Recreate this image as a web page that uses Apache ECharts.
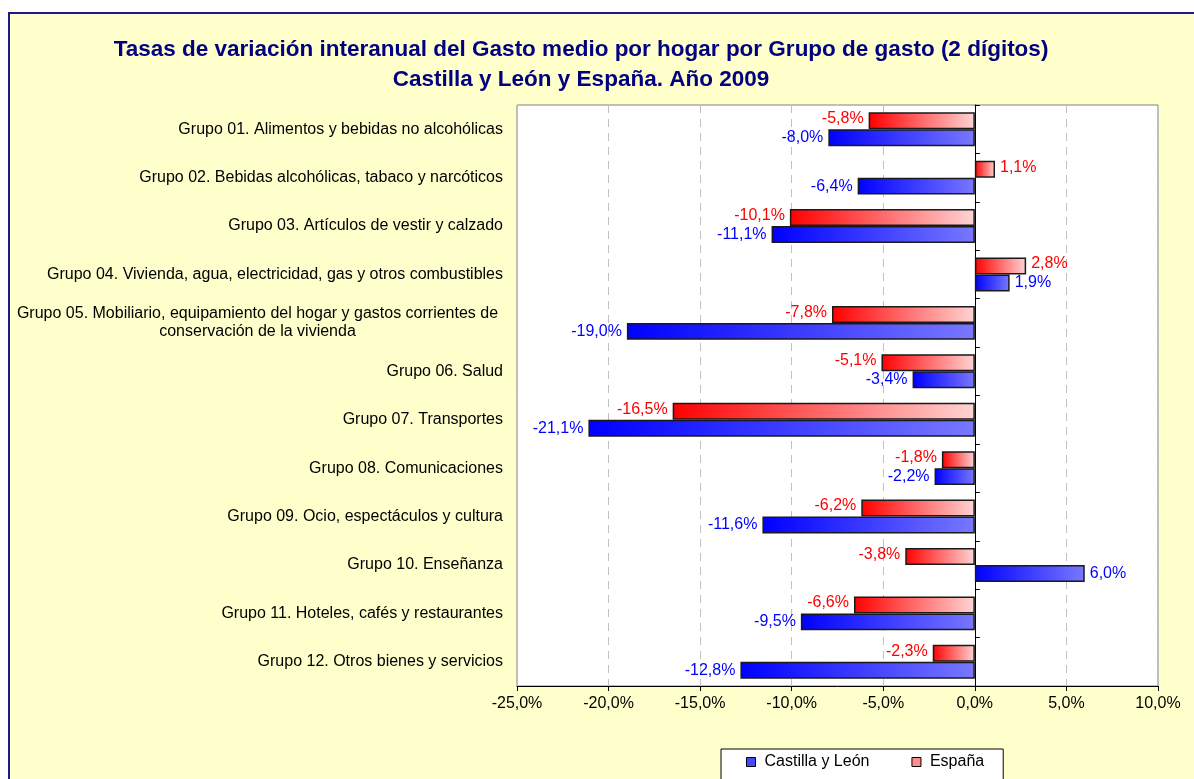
<!DOCTYPE html>
<html>
<head>
<meta charset="utf-8">
<script src="https://cdn.jsdelivr.net/npm/echarts@6/dist/echarts.min.js"></script>
<style>
  html, body { margin: 0; padding: 0; background: #ffffff; width: 1194px; height: 779px; overflow: hidden; }
  #frame { position: absolute; left: 8px; top: 12px; width: 1186px; height: 767px;
           border-left: 2px solid #1A1A8C; border-top: 2px solid #1A1A8C; background: #FFFFCC; box-sizing: border-box; }
  #chart { position: absolute; left: 0; top: 0; width: 1194px; height: 779px; }
</style>
</head>
<body>
<div id="frame"></div>
<div id="chart"></div>
<script>
const titleLines = [
  'Tasas de variación interanual del Gasto medio por hogar por Grupo de gasto (2 dígitos)',
  'Castilla y León y España. Año 2009'
];
const categories = [
  'Grupo 01. Alimentos y bebidas no alcohólicas',
  'Grupo 02. Bebidas alcohólicas, tabaco y narcóticos',
  'Grupo 03. Artículos de vestir y calzado',
  'Grupo 04. Vivienda, agua, electricidad, gas y otros combustibles',
  'Grupo 05. Mobiliario, equipamiento del hogar y gastos corrientes de\nconservación de la vivienda',
  'Grupo 06. Salud',
  'Grupo 07. Transportes',
  'Grupo 08. Comunicaciones',
  'Grupo 09. Ocio, espectáculos y cultura',
  'Grupo 10. Enseñanza',
  'Grupo 11. Hoteles, cafés y restaurantes',
  'Grupo 12. Otros bienes y servicios'
];
const seriesNames = ['Castilla y León', 'España'];
const castillaLeon = [-8.0, -6.4, -11.1, 1.9, -19.0, -3.4, -21.1, -2.2, -11.6, 6.0, -9.5, -12.8];
const espana = [-5.8, 1.1, -10.1, 2.8, -7.8, -5.1, -16.5, -1.8, -6.2, -3.8, -6.6, -2.3];
const xMin = -25, xMax = 10, xStep = 5;

const fmt = v => v.toFixed(1).replace('.', ',') + '%';
const FONT = '"Liberation Sans", Arial, sans-serif';

function barData(vals) {
  return vals.map(v => ({
    value: v,
    label: { position: v < 0 ? 'left' : 'right' }
  }));
}

const chart = echarts.init(document.getElementById('chart'), null, { renderer: 'canvas' });
chart.setOption({
  backgroundColor: 'transparent',
  animation: false,
  textStyle: { fontFamily: FONT },
  title: {
    text: titleLines.join('\n'),
    left: 576, top: 30, textAlign: 'center',
    textStyle: { fontFamily: FONT, fontSize: 22.5, fontWeight: 'bold', color: '#000080', lineHeight: 30 }
  },
  legend: {
    left: 721, top: 749,
    backgroundColor: '#ffffff', borderColor: '#000000', borderWidth: 1,
    padding: [5, 19, 20, 25],
    itemGap: 42, itemWidth: 9, itemHeight: 9, icon: 'rect',
    textStyle: { fontFamily: FONT, fontSize: 16, color: '#000', padding: [0, 0, 0, 4] },
    data: [
      { name: seriesNames[0], itemStyle: { color: '#4848FF', borderColor: '#000', borderWidth: 1 } },
      { name: seriesNames[1], itemStyle: { color: '#FF8C8C', borderColor: '#000', borderWidth: 1 } }
    ]
  },
  grid: {
    left: 517, right: 36, top: 105, bottom: 93,
    show: true, backgroundColor: '#ffffff', borderColor: '#808080', borderWidth: 1
  },
  xAxis: {
    type: 'value', min: xMin, max: xMax, interval: xStep,
    axisLine: { show: true, lineStyle: { color: '#000', width: 1 } },
    axisTick: { show: true, length: 5, lineStyle: { color: '#000' } },
    axisLabel: { formatter: fmt, fontFamily: FONT, fontSize: 16, color: '#000', margin: 10 },
    splitLine: { show: true, lineStyle: { color: '#C0C0C0', type: [8, 6], width: 1 } }
  },
  yAxis: [
    {
      type: 'category', data: categories, inverse: true,
      axisLine: { show: false, onZero: false },
      axisTick: { show: false },
      axisLabel: {
        margin: 14, fontFamily: FONT, fontSize: 16, color: '#000', lineHeight: 18,
        formatter: v => v.indexOf('\n') >= 0 ? v.split('\n').map(s => '{c|' + s + '}').join('\n') : v,
        rich: { c: { width: 491, align: 'center', fontFamily: FONT, fontSize: 16, color: '#000', lineHeight: 18 } }
      }
    },
    {
      type: 'category', data: categories, inverse: true,
      axisLine: { show: true, onZero: true, lineStyle: { color: '#000', width: 1 } },
      axisTick: { show: true, length: 5, lineStyle: { color: '#000' } },
      axisLabel: { show: false },
      splitLine: { show: false }
    }
  ],
  series: [
    {
      name: seriesNames[1], type: 'bar', yAxisIndex: 0, data: barData(espana),
      barGap: '0%', barCategoryGap: '30%',
      itemStyle: {
        color: new echarts.graphic.LinearGradient(0, 0, 1, 0, [
          { offset: 0, color: '#FF0000' }, { offset: 1, color: '#FFD4D4' }
        ]),
        borderColor: '#1a1a1a', borderWidth: 1.5
      },
      label: { show: true, formatter: p => fmt(p.value), color: '#FF0000', fontFamily: FONT, fontSize: 16, distance: 5, offset: [0, -2] }
    },
    {
      name: seriesNames[0], type: 'bar', yAxisIndex: 0, data: barData(castillaLeon),
      barGap: '0%', barCategoryGap: '30%',
      itemStyle: {
        color: new echarts.graphic.LinearGradient(0, 0, 1, 0, [
          { offset: 0, color: '#0000FF' }, { offset: 1, color: '#7878FF' }
        ]),
        borderColor: '#1a1a1a', borderWidth: 1.5
      },
      label: { show: true, formatter: p => fmt(p.value), color: '#0000FF', fontFamily: FONT, fontSize: 16, distance: 5, offset: [0, 0] }
    }
  ]
});
</script>
</body>
</html>
